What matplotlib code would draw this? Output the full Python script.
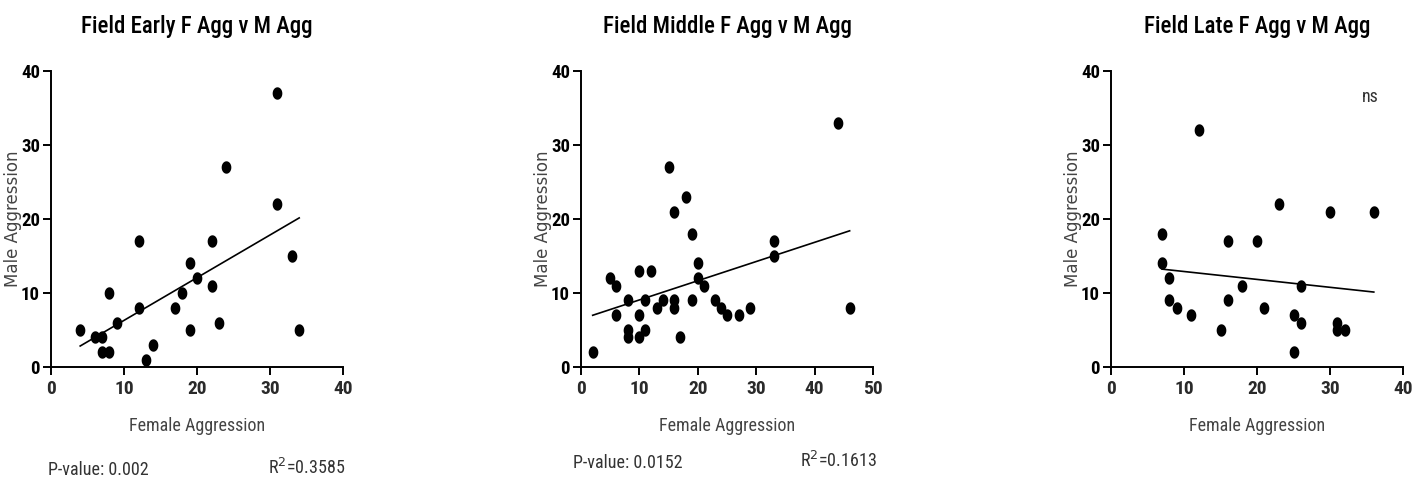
import matplotlib
matplotlib.use("Agg")
import matplotlib.pyplot as plt
from matplotlib import font_manager
import numpy as np

# pick a narrow font if there is one installed
names = set(f.name for f in font_manager.fontManager.ttflist)
narrow_font = 'DejaVu Sans'
for cand in ['Liberation Sans Narrow', 'Roboto Condensed', 'Open Sans Condensed', 'Arial Narrow']:
    if cand in names:
        narrow_font = cand
        break
has_narrow = narrow_font != 'DejaVu Sans'
narrow = [narrow_font, 'DejaVu Sans']
# sizes scaled down when only a normal-width font is available
sc = 1.0 if has_narrow else 0.78

titles = ["Field Early F Agg v M Agg", "Field Middle F Agg v M Agg", "Field Late F Agg v M Agg"]

early_f = [4, 6, 7, 7, 8, 8, 9, 12, 12, 13, 14, 17, 18, 19, 19, 20, 22, 22, 23, 24, 31, 31, 33, 34]
early_m = [5, 4, 4, 2, 2, 10, 6, 17, 8, 1, 3, 8, 10, 5, 14, 12, 17, 11, 6, 27, 37, 22, 15, 5]

middle_f = [2, 5, 6, 6, 8, 8, 8, 10, 10, 10, 11, 11, 12, 13, 14, 15, 16, 16, 16, 17, 18, 19, 19,
            20, 20, 21, 23, 24, 25, 27, 29, 33, 33, 44, 46]
middle_m = [2, 12, 11, 7, 9, 5, 4, 13, 7, 4, 9, 5, 13, 8, 9, 27, 21, 9, 8, 4, 23, 18, 9,
            14, 12, 11, 9, 8, 7, 7, 8, 17, 15, 33, 8]

late_f = [7, 7, 8, 8, 9, 11, 12, 15, 16, 16, 18, 20, 21, 23, 25, 25, 26, 26, 30, 31, 31, 32, 36]
late_m = [18, 14, 12, 9, 8, 7, 32, 5, 17, 9, 11, 17, 8, 22, 7, 2, 11, 6, 21, 6, 5, 5, 21]

xmax = [40, 50, 40]
xticks = [[0, 10, 20, 30, 40], [0, 10, 20, 30, 40, 50], [0, 10, 20, 30, 40]]
p_values = ["P-value: 0.002", "P-value: 0.0152", None]
r_squared = ["R$^2$=0.3585", "R$^2$=0.1613", None]

# slightly tall oval dot like the original
t = np.linspace(0, 2 * np.pi, 40)
oval = np.column_stack([0.78 * np.cos(t), np.sin(t)])

W, H = 1424, 487
fig = plt.figure(figsize=(W / 100, H / 100), dpi=100)
lefts = [51, 581, 1111]
data = [(early_f, early_m), (middle_f, middle_m), (late_f, late_m)]
stat_y = [[470, 468], [463, 461], None]
stat_x = [[48, 268], [573, 800], None]

for i in range(3):
    ax = fig.add_axes([lefts[i] / W, (H - 367) / H, 292 / W, 296 / H])
    fx, my = np.array(data[i][0]), np.array(data[i][1])
    ax.scatter(fx, my, s=80, marker=oval, color='black', zorder=3, clip_on=False, linewidths=0)
    k, b = np.polyfit(fx, my, 1)
    xs = np.array([fx.min(), fx.max()])
    ax.plot(xs, k * xs + b, color='black', lw=1.2)
    ax.set_xlim(0, xmax[i])
    ax.set_ylim(0, 40)
    ax.set_xticks(xticks[i])
    ax.set_yticks([0, 10, 20, 30, 40])
    for s in ['top', 'right']:
        ax.spines[s].set_visible(False)
    for s in ['left', 'bottom']:
        ax.spines[s].set_linewidth(1.4)
    ax.tick_params(direction='out', length=6, width=1.4, pad=3)
    ax.tick_params(axis='y', pad=2)
    for tl in ax.get_xticklabels():
        tl.set_family(narrow)
        tl.set_fontsize(14 * sc)
        tl.set_fontweight('bold')
        tl.set_color('#2a2a2a')
    for tl in ax.get_yticklabels():
        tl.set_family(narrow)
        tl.set_fontsize(13.5 * sc)
        tl.set_fontweight('bold')
    fig.text((lefts[i] + 146) / W, 1 - 27 / H, titles[i], family=narrow, fontsize=16.5 * sc,
             fontweight='medium', ha='center', va='center')
    ax.set_xlabel("Female Aggression", family=narrow, fontsize=13 * sc, color='#444444')
    ax.xaxis.set_label_coords(0.5, -(426 - 367) / 296)
    ax.xaxis.label.set_va('center')
    ax.set_ylabel("Male Aggression", fontsize=12, color='#444444')
    ax.yaxis.set_label_coords(-(51 - 13) / 292, 0.5)
    ax.yaxis.label.set_va('center')
    if p_values[i] is not None:
        fig.text(stat_x[i][0] / W, 1 - stat_y[i][0] / H, p_values[i], family=narrow,
                 fontsize=13 * sc, color='#333333', va='center')
        fig.text(stat_x[i][1] / W, 1 - stat_y[i][1] / H, r_squared[i], family=narrow,
                 fontsize=13 * sc, color='#333333', va='center')

fig.axes[2].text(35.5, 36.5, "ns", family=narrow, fontsize=13 * sc, color='#333333',
                 ha='center', va='center')

fig.savefig("out.png", dpi=100)
